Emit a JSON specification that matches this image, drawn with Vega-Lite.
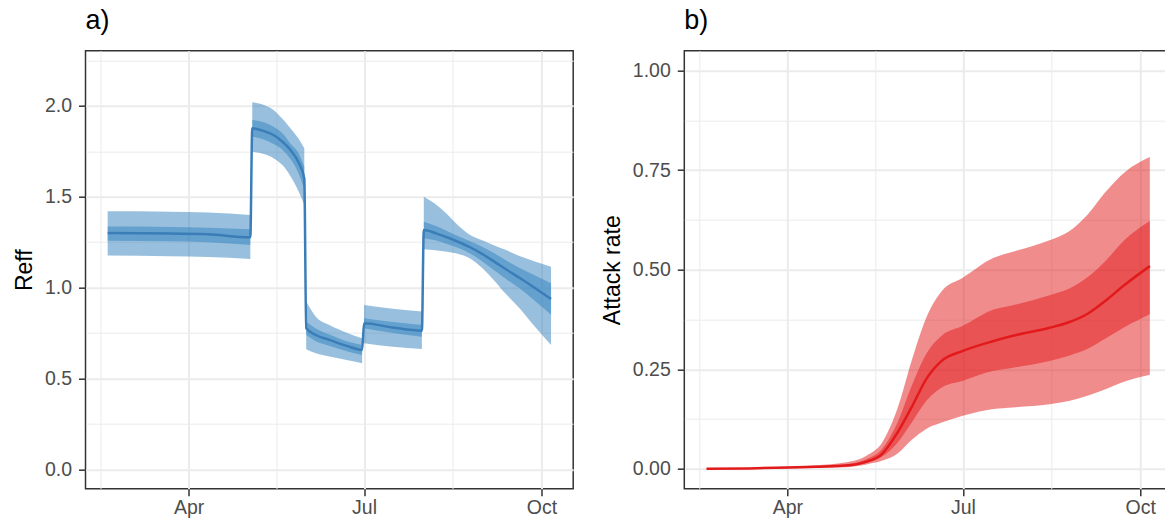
{
  "$schema": "https://vega.github.io/schema/vega-lite/v6.json",
  "background": "white",
  "padding": {"left": 12.5, "top": 5.7, "right": 0, "bottom": 0},
  "spacing": 25.8,
  "datasets": {
    "reff": [
      {"date": "2020-02-19", "seg": 1, "med": 1.300, "lo50": 1.258, "hi50": 1.336, "lo95": 1.176, "hi95": 1.420},
      {"date": "2020-03-22", "seg": 1, "med": 1.298, "lo50": 1.255, "hi50": 1.334, "lo95": 1.172, "hi95": 1.418},
      {"date": "2020-04-11", "seg": 1, "med": 1.293, "lo50": 1.250, "hi50": 1.330, "lo95": 1.168, "hi95": 1.414},
      {"date": "2020-05-03", "seg": 1, "med": 1.277, "lo50": 1.235, "hi50": 1.321, "lo95": 1.158, "hi95": 1.400},
      {"date": "2020-05-04", "seg": 2, "med": 1.877, "lo50": 1.831, "hi50": 1.923, "lo95": 1.748, "hi95": 2.020},
      {"date": "2020-05-10", "seg": 2, "med": 1.862, "lo50": 1.815, "hi50": 1.910, "lo95": 1.735, "hi95": 2.005},
      {"date": "2020-05-15", "seg": 2, "med": 1.840, "lo50": 1.790, "hi50": 1.885, "lo95": 1.712, "hi95": 1.978},
      {"date": "2020-05-20", "seg": 2, "med": 1.800, "lo50": 1.755, "hi50": 1.845, "lo95": 1.670, "hi95": 1.925},
      {"date": "2020-05-24", "seg": 2, "med": 1.755, "lo50": 1.705, "hi50": 1.790, "lo95": 1.610, "hi95": 1.875},
      {"date": "2020-05-28", "seg": 2, "med": 1.690, "lo50": 1.630, "hi50": 1.740, "lo95": 1.530, "hi95": 1.820},
      {"date": "2020-05-31", "seg": 2, "med": 1.600, "lo50": 1.540, "hi50": 1.665, "lo95": 1.455, "hi95": 1.767},
      {"date": "2020-06-01", "seg": 3, "med": 0.776, "lo50": 0.739, "hi50": 0.813, "lo95": 0.661, "hi95": 0.923},
      {"date": "2020-06-06", "seg": 3, "med": 0.739, "lo50": 0.705, "hi50": 0.775, "lo95": 0.638, "hi95": 0.840},
      {"date": "2020-06-13", "seg": 3, "med": 0.712, "lo50": 0.680, "hi50": 0.742, "lo95": 0.620, "hi95": 0.794},
      {"date": "2020-06-22", "seg": 3, "med": 0.679, "lo50": 0.650, "hi50": 0.705, "lo95": 0.602, "hi95": 0.752},
      {"date": "2020-06-30", "seg": 3, "med": 0.657, "lo50": 0.629, "hi50": 0.684, "lo95": 0.584, "hi95": 0.721},
      {"date": "2020-07-01", "seg": 4, "med": 0.804, "lo50": 0.776, "hi50": 0.831, "lo95": 0.694, "hi95": 0.904},
      {"date": "2020-07-16", "seg": 4, "med": 0.780, "lo50": 0.750, "hi50": 0.810, "lo95": 0.674, "hi95": 0.883},
      {"date": "2020-07-31", "seg": 4, "med": 0.763, "lo50": 0.730, "hi50": 0.794, "lo95": 0.662, "hi95": 0.868},
      {"date": "2020-08-01", "seg": 5, "med": 1.317, "lo50": 1.272, "hi50": 1.363, "lo95": 1.211, "hi95": 1.500},
      {"date": "2020-08-07", "seg": 5, "med": 1.300, "lo50": 1.260, "hi50": 1.340, "lo95": 1.205, "hi95": 1.460},
      {"date": "2020-08-13", "seg": 5, "med": 1.277, "lo50": 1.240, "hi50": 1.312, "lo95": 1.197, "hi95": 1.405},
      {"date": "2020-08-19", "seg": 5, "med": 1.251, "lo50": 1.218, "hi50": 1.283, "lo95": 1.185, "hi95": 1.340},
      {"date": "2020-08-25", "seg": 5, "med": 1.222, "lo50": 1.188, "hi50": 1.255, "lo95": 1.160, "hi95": 1.290},
      {"date": "2020-08-31", "seg": 5, "med": 1.187, "lo50": 1.147, "hi50": 1.226, "lo95": 1.110, "hi95": 1.262},
      {"date": "2020-09-06", "seg": 5, "med": 1.147, "lo50": 1.100, "hi50": 1.192, "lo95": 1.045, "hi95": 1.235},
      {"date": "2020-09-13", "seg": 5, "med": 1.098, "lo50": 1.045, "hi50": 1.148, "lo95": 0.960, "hi95": 1.205},
      {"date": "2020-09-20", "seg": 5, "med": 1.051, "lo50": 0.993, "hi50": 1.106, "lo95": 0.882, "hi95": 1.172},
      {"date": "2020-09-28", "seg": 5, "med": 0.995, "lo50": 0.923, "hi50": 1.065, "lo95": 0.780, "hi95": 1.142},
      {"date": "2020-10-06", "seg": 5, "med": 0.937, "lo50": 0.850, "hi50": 1.024, "lo95": 0.684, "hi95": 1.115}
    ],
    "attack": [
      {"date": "2020-02-19", "med": 0.000, "lo50": 0.000, "hi50": 0.000, "lo95": 0.000, "hi95": 0.000},
      {"date": "2020-03-12", "med": 0.001, "lo50": 0.001, "hi50": 0.001, "lo95": 0.000, "hi95": 0.002},
      {"date": "2020-04-01", "med": 0.003, "lo50": 0.002, "hi50": 0.004, "lo95": 0.001, "hi95": 0.005},
      {"date": "2020-04-16", "med": 0.005, "lo50": 0.004, "hi50": 0.007, "lo95": 0.002, "hi95": 0.009},
      {"date": "2020-05-01", "med": 0.008, "lo50": 0.006, "hi50": 0.011, "lo95": 0.004, "hi95": 0.016},
      {"date": "2020-05-12", "med": 0.018, "lo50": 0.014, "hi50": 0.024, "lo95": 0.011, "hi95": 0.033},
      {"date": "2020-05-20", "med": 0.037, "lo50": 0.030, "hi50": 0.049, "lo95": 0.020, "hi95": 0.065},
      {"date": "2020-05-28", "med": 0.090, "lo50": 0.065, "hi50": 0.115, "lo95": 0.038, "hi95": 0.150},
      {"date": "2020-06-05", "med": 0.160, "lo50": 0.120, "hi50": 0.215, "lo95": 0.075, "hi95": 0.280},
      {"date": "2020-06-12", "med": 0.225, "lo50": 0.170, "hi50": 0.288, "lo95": 0.100, "hi95": 0.379},
      {"date": "2020-06-20", "med": 0.271, "lo50": 0.204, "hi50": 0.334, "lo95": 0.116, "hi95": 0.446},
      {"date": "2020-07-01", "med": 0.296, "lo50": 0.221, "hi50": 0.359, "lo95": 0.133, "hi95": 0.480},
      {"date": "2020-07-17", "med": 0.321, "lo50": 0.246, "hi50": 0.400, "lo95": 0.150, "hi95": 0.530},
      {"date": "2020-07-27", "med": 0.334, "lo50": 0.254, "hi50": 0.411, "lo95": 0.154, "hi95": 0.545},
      {"date": "2020-08-15", "med": 0.354, "lo50": 0.271, "hi50": 0.436, "lo95": 0.162, "hi95": 0.574},
      {"date": "2020-08-25", "med": 0.368, "lo50": 0.284, "hi50": 0.452, "lo95": 0.170, "hi95": 0.596},
      {"date": "2020-09-04", "med": 0.390, "lo50": 0.302, "hi50": 0.482, "lo95": 0.184, "hi95": 0.640},
      {"date": "2020-09-13", "med": 0.422, "lo50": 0.327, "hi50": 0.522, "lo95": 0.200, "hi95": 0.695},
      {"date": "2020-09-23", "med": 0.462, "lo50": 0.356, "hi50": 0.575, "lo95": 0.219, "hi95": 0.745},
      {"date": "2020-10-06", "med": 0.509, "lo50": 0.388, "hi50": 0.622, "lo95": 0.236, "hi95": 0.783}
    ]
  },
  "hconcat": [
    {
      "width": 487.7,
      "height": 438,
      "title": {"text": "a)"},
      "data": {"name": "reff"},
      "layer": [
        {
          "mark": {"type": "area", "interpolate": "monotone", "color": "#3182BD", "opacity": 0.5},
          "encoding": {
            "x": {"field": "date", "type": "temporal",
              "scale": {"type": "utc", "domain": [{"year": 2020, "month": 2, "date": 7, "hours": 12, "utc": true}, {"year": 2020, "month": 10, "date": 17, "hours": 12, "utc": true}]},
              "axis": {"orient": "bottom", "title": null, "labels": false, "ticks": false, "domain": false, "grid": true, "gridWidth": 1,
                "values": [{"year": 2020, "month": 2, "date": 15, "hours": 12, "utc": true}, {"year": 2020, "month": 5, "date": 16, "hours": 12, "utc": true}, {"year": 2020, "month": 8, "date": 16, "utc": true}]}},
            "y": {"field": "lo95", "type": "quantitative",
              "scale": {"domain": [-0.107, 2.304], "nice": false, "zero": false},
              "axis": {"orient": "left", "title": null, "labels": false, "ticks": false, "domain": false, "grid": true, "gridWidth": 1, "values": [0.25, 0.75, 1.25, 1.75, 2.25]}},
            "y2": {"field": "hi95"},
            "detail": {"field": "seg", "type": "nominal"}
          }
        },
        {
          "mark": {"type": "area", "interpolate": "monotone", "color": "#3182BD", "opacity": 0.5},
          "encoding": {
            "x": {"field": "date", "type": "temporal",
              "scale": {"type": "utc", "domain": [{"year": 2020, "month": 2, "date": 7, "hours": 12, "utc": true}, {"year": 2020, "month": 10, "date": 17, "hours": 12, "utc": true}]},
              "axis": {"orient": "bottom", "title": null, "format": "%b", "grid": true, "labelPadding": 3,
                "values": [{"year": 2020, "month": 4, "date": 1, "utc": true}, {"year": 2020, "month": 7, "date": 1, "utc": true}, {"year": 2020, "month": 10, "date": 1, "utc": true}]}},
            "y": {"field": "lo50", "type": "quantitative",
              "scale": {"domain": [-0.107, 2.304], "nice": false, "zero": false},
              "axis": {"orient": "left", "title": "Reff", "format": ".1f", "grid": true, "labelPadding": 7, "values": [0, 0.5, 1, 1.5, 2]}},
            "y2": {"field": "hi50"},
            "detail": {"field": "seg", "type": "nominal"}
          }
        },
        {
          "mark": {"type": "line", "interpolate": "monotone", "color": "#3A7DB8", "strokeWidth": 2.5},
          "encoding": {
            "x": {"field": "date", "type": "temporal", "axis": null,
              "scale": {"type": "utc", "domain": [{"year": 2020, "month": 2, "date": 7, "hours": 12, "utc": true}, {"year": 2020, "month": 10, "date": 17, "hours": 12, "utc": true}]}},
            "y": {"field": "med", "type": "quantitative", "axis": null,
              "scale": {"domain": [-0.107, 2.304], "nice": false, "zero": false}}
          }
        }
      ],
      "resolve": {"axis": {"x": "independent", "y": "independent"}}
    },
    {
      "width": 487.7,
      "height": 438,
      "title": {"text": "b)"},
      "data": {"name": "attack"},
      "layer": [
        {
          "mark": {"type": "area", "interpolate": "monotone", "color": "#E31A1C", "opacity": 0.5},
          "encoding": {
            "x": {"field": "date", "type": "temporal",
              "scale": {"type": "utc", "domain": [{"year": 2020, "month": 2, "date": 7, "hours": 12, "utc": true}, {"year": 2020, "month": 10, "date": 17, "hours": 12, "utc": true}]},
              "axis": {"orient": "bottom", "title": null, "labels": false, "ticks": false, "domain": false, "grid": true, "gridWidth": 1,
                "values": [{"year": 2020, "month": 2, "date": 15, "hours": 12, "utc": true}, {"year": 2020, "month": 5, "date": 16, "hours": 12, "utc": true}, {"year": 2020, "month": 8, "date": 16, "utc": true}]}},
            "y": {"field": "lo95", "type": "quantitative",
              "scale": {"domain": [-0.05, 1.05], "nice": false, "zero": false},
              "axis": {"orient": "left", "title": null, "labels": false, "ticks": false, "domain": false, "grid": true, "gridWidth": 1, "values": [0.125, 0.375, 0.625, 0.875]}},
            "y2": {"field": "hi95"}
          }
        },
        {
          "mark": {"type": "area", "interpolate": "monotone", "color": "#E31A1C", "opacity": 0.5},
          "encoding": {
            "x": {"field": "date", "type": "temporal",
              "scale": {"type": "utc", "domain": [{"year": 2020, "month": 2, "date": 7, "hours": 12, "utc": true}, {"year": 2020, "month": 10, "date": 17, "hours": 12, "utc": true}]},
              "axis": {"orient": "bottom", "title": null, "format": "%b", "grid": true, "labelPadding": 3,
                "values": [{"year": 2020, "month": 4, "date": 1, "utc": true}, {"year": 2020, "month": 7, "date": 1, "utc": true}, {"year": 2020, "month": 10, "date": 1, "utc": true}]}},
            "y": {"field": "lo50", "type": "quantitative",
              "scale": {"domain": [-0.05, 1.05], "nice": false, "zero": false},
              "axis": {"orient": "left", "title": "Attack rate", "format": ".2f", "grid": true, "labelPadding": 7, "values": [0, 0.25, 0.5, 0.75, 1]}},
            "y2": {"field": "hi50"}
          }
        },
        {
          "mark": {"type": "line", "interpolate": "monotone", "color": "#E31A1C", "strokeWidth": 2.5},
          "encoding": {
            "x": {"field": "date", "type": "temporal", "axis": null,
              "scale": {"type": "utc", "domain": [{"year": 2020, "month": 2, "date": 7, "hours": 12, "utc": true}, {"year": 2020, "month": 10, "date": 17, "hours": 12, "utc": true}]}},
            "y": {"field": "med", "type": "quantitative", "axis": null,
              "scale": {"domain": [-0.05, 1.05], "nice": false, "zero": false}}
          }
        }
      ],
      "resolve": {"axis": {"x": "independent", "y": "independent"}}
    }
  ],
  "config": {
    "font": "Liberation Sans",
    "view": {"stroke": "#333333", "strokeWidth": 1.5},
    "title": {"anchor": "start", "frame": "group", "fontSize": 27, "fontWeight": "normal", "color": "#000000", "font": "Liberation Sans", "offset": 16},
    "axis": {
      "domain": false,
      "gridColor": "#EBEBEB",
      "gridWidth": 2,
      "tickColor": "#333333",
      "tickWidth": 1.5,
      "tickSize": 7,
      "labelColor": "#4D4D4D",
      "labelFontSize": 19.5,
      "labelFont": "Liberation Sans",
      "labelPadding": 4,
      "titleFont": "Liberation Sans",
      "titleFontSize": 23,
      "titleFontWeight": "normal",
      "titleColor": "#000000",
      "titlePadding": 7.5,
      "labelFlush": false,
      "labelOverlap": false
    }
  }
}
